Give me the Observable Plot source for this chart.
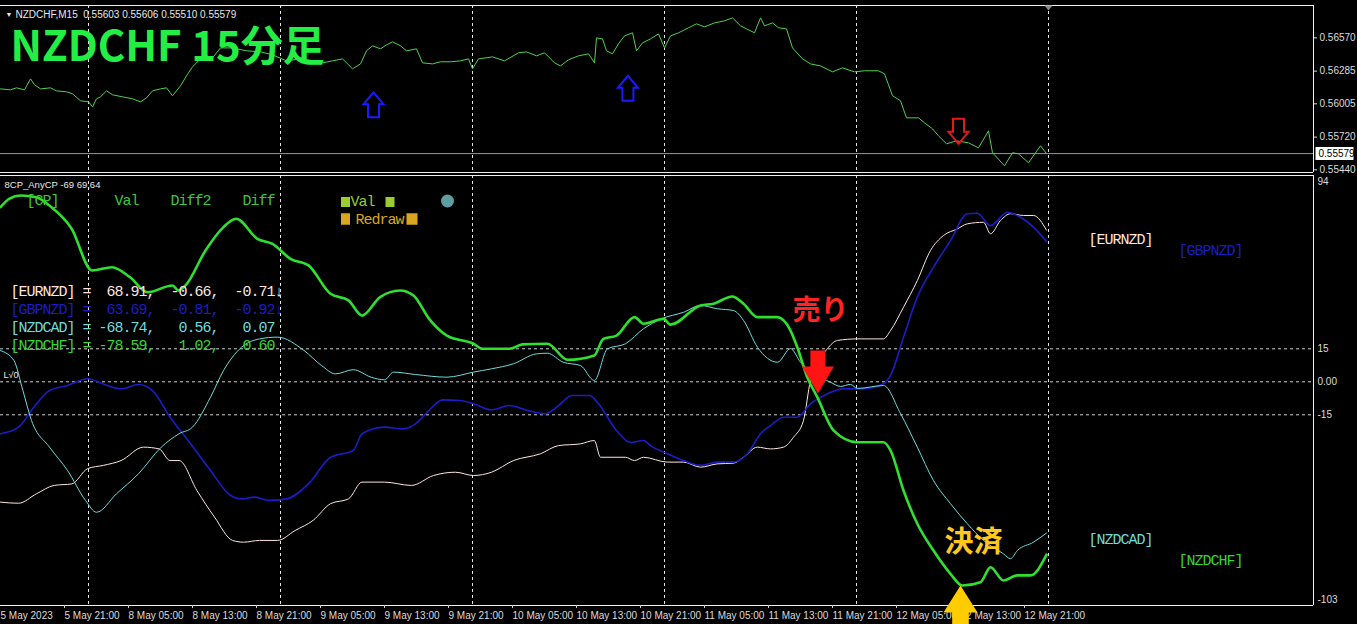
<!DOCTYPE html>
<html><head><meta charset="utf-8">
<script src="https://cdn.jsdelivr.net/npm/d3@7"></script>
<script src="https://cdn.jsdelivr.net/npm/@observablehq/plot@0.6"></script>
<style>
html,body{margin:0;padding:0;background:#000;overflow:hidden;width:1357px;height:624px;}
#chart svg{display:block;}
</style></head><body><div id="chart"></div>
<script>
// ---------- price pane data (NZDCHF M15, bar index from 5 May 13:00) ----------
const priceBars = [0,5,8,12,15,17,20,25,28,33,36,40,44,46,48,50,53,56,61,66,70,73,76,80,83,86,90,93,96,100,103,106,110,116,123,130,136,143,150,156,161,166,171,176,180,183,186,190,193,196,200,203,208,211,216,220,225,230,234,236,239,246,252,259,263,268,272,277,280,284,289,294,297,298,301,303,306,309,312,316,318,321,325,329,332,335,339,344,348,352,357,362,366,370,373,377,380,382,386,389,393,396,401,405,410,416,421,427,432,439,442,446,450,453,459,462,466,469,473,478,484,489,494,496,502,506,509,514,520,523];
const priceVals = [0.56133,0.56125,0.56142,0.56125,0.56219,0.56168,0.56133,0.56142,0.56116,0.56108,0.56091,0.56031,0.56022,0.55979,0.56048,0.56065,0.56116,0.56082,0.56065,0.56048,0.56022,0.56056,0.56116,0.56133,0.56142,0.56074,0.56159,0.56245,0.56322,0.56390,0.56416,0.56399,0.56484,0.56484,0.56459,0.56450,0.56425,0.56373,0.56390,0.56373,0.56356,0.56373,0.56390,0.56305,0.56347,0.56459,0.56502,0.56476,0.56510,0.56536,0.56502,0.56459,0.56476,0.56356,0.56347,0.56365,0.56365,0.56373,0.56390,0.56305,0.56390,0.56407,0.56373,0.56442,0.56450,0.56416,0.56442,0.56356,0.56330,0.56382,0.56416,0.56433,0.56356,0.56570,0.56561,0.56459,0.56433,0.56519,0.56587,0.56613,0.56459,0.56527,0.56561,0.56604,0.56484,0.56587,0.56613,0.56656,0.56690,0.56664,0.56698,0.56716,0.56741,0.56673,0.56647,0.56613,0.56741,0.56673,0.56698,0.56656,0.56647,0.56484,0.56390,0.56347,0.56330,0.56279,0.56313,0.56279,0.56288,0.56288,0.56262,0.56074,0.56031,0.55885,0.55885,0.55842,0.55791,0.55731,0.55663,0.55688,0.55671,0.55628,0.55774,0.55586,0.55474,0.55586,0.55577,0.55500,0.55646,0.55579];
const priceTicks = [0.56570, 0.56285, 0.56005, 0.55720, 0.55440];
const lastPrice = 0.55579;
const quoteSymbol = "NZDCHF,M15";
const quoteOHLC = [0.55603, 0.55606, 0.55510, 0.55579];
const chartTitle = "NZDCHF 15分足";
const buyArrowBars = [186.5, 313.7];
const buyArrowPrices = [0.55997, 0.56138];
const sellArrowBars = [479];
const sellArrowPrices = [0.55770];

// ---------- indicator pane data (8CP_AnyCP) ----------
const eurBars = [0,9,18,26.8,35.7,43.5,51.4,60.3,71.5,79.3,84.8,89.3,98.2,107,116,121.5,129.5,138.5,147.3,156.3,165,174,180.8,192,205.4,216.5,227.5,236.5,245.5,256.5,270,279,290,296.9,300,312.5,317,321.5,333.4,341.5,350,358.4,366.5,371.5,378.4,385,391.5,396.5,401.5,405,413.4,418.5,428.4,441.5,445,451.5,458.4,465,471.5,478.4,483.4,491.5,495,500,505,511.5,516.5,523];
const eurVals = [-54.7,-55.2,-50.9,-47.1,-46.4,-39.5,-38.0,-35.8,-29.7,-30.5,-35.8,-35.8,-49.4,-61.5,-72.1,-72.9,-72.1,-72.1,-67.6,-63.0,-55.4,-53.2,-45.6,-45.6,-47.1,-42.6,-41.1,-42.6,-41.1,-35.8,-32.7,-29.0,-28.2,-26.7,-34.3,-34.3,-35.8,-34.3,-36.5,-36.5,-38.8,-37.3,-37.0,-34.3,-29.7,-30.5,-29.7,-25.2,-17.6,0.6,15.0,18.8,19.5,19.5,23.3,33.9,46.0,59.7,66.5,69.5,71.8,72.5,67.3,73.3,76.4,75.6,75.6,68.91];
const gbpBars = [0,9,18,24.5,33.5,43.5,53.5,60.3,69,76,84.8,93.8,105,114,120.5,127.3,134,143,154,165,176.4,180.8,192,200.9,207.5,214.3,221,229.9,236.5,245.5,254.5,263.5,272.3,279,285.7,294.5,299,308,314.8,321.5,325,333.4,341.5,350,358.4,366.5,373.4,380,385,391.5,398.4,405,413.4,421.5,431.5,441.5,445,451.5,458.4,466.5,475,483.4,488.4,495,503.4,510,516.5,523];
const gbpVals = [-23.6,-20.6,-10.0,-4.0,-1.7,1.4,-1.7,-3.2,-1.2,-4.0,-16.1,-26.7,-40.3,-50.9,-53.2,-52.4,-53.9,-53.2,-46.4,-34.3,-31.2,-23.6,-20.6,-21.4,-19.1,-13.0,-8.2,-8.5,-10.0,-12.7,-10.8,-13.0,-14.5,-10.8,-6.2,-6.2,-10.0,-22.1,-27.5,-26.7,-29.0,-32.7,-35.8,-38.0,-36.5,-36.5,-32.7,-23.6,-19.9,-16.1,-16.1,-10.0,-5.5,-3.2,-3.2,-0.9,2.9,20.3,38.5,52.1,64.2,76.4,76.6,71.0,77.1,74.8,70.3,63.69];
const cadBars = [0,6.7,11.2,15.5,24.5,33.5,42.5,48,58,69,80.4,89.3,96,105,111.5,120.5,129.5,138.5,151.8,160.5,167.5,176.4,185.3,192,196.5,207.5,223.2,236.5,245.5,256.5,267.9,273.5,281.3,290,296.9,303.5,312.5,321.5,330.4,341.5,350,358.4,366.5,371.5,378.5,388.5,395,400,406.5,415,420,425,428.5,441.5,450,458.4,466.5,475,483.4,491.5,501.5,505,508.4,516.5,523];
const cadVals = [14.2,9.7,-4.0,-17.6,-29.7,-40.3,-53.9,-59.3,-50.9,-41.8,-29.7,-23.6,-20.6,-7.0,5.1,15.7,19.5,20.3,14.2,7.4,3.6,5.5,2.1,0.9,4.4,3.3,2.1,4.4,5.9,8.2,12.7,13.0,8.9,7.4,0.6,15.0,17.3,24.1,28.6,31.6,34.7,33.2,32.4,27.9,15.7,8.9,15.1,8.9,3.8,-0.2,-2.1,-1.2,-3.0,-1.7,-14.4,-29.7,-44.9,-55.4,-64.5,-72.1,-78.2,-80.4,-76.7,-72.9,-68.74];
const chfBars = [0,4.5,10,18,24.5,35.5,45.8,55.8,64.8,73.5,86,89,92.5,102.5,111.5,117.8,128.4,136,145,154,165,174,180.8,189.8,199.8,206.5,214.3,223.2,236.5,241,254.5,261,273.5,283.5,296.9,301.4,308,317,321.5,331.5,335,350,356.5,365.9,371.5,378.4,388.4,395,398.4,403.4,408.4,416.5,428.4,441.5,445,451.5,458.4,466.5,475,480.9,490,495,501.5,508.4,515,523];
const chfVals = [79.4,83.3,84.7,83.9,80.1,69.7,50.6,52.1,47.5,40.7,43.8,41.5,43.8,59.7,70.3,74.1,65.0,62.7,55.9,52.9,40.0,37.0,30.1,38.5,41.5,39.2,28.6,21.0,17.3,15.0,15.0,17.0,17.3,10.0,12.0,19.5,21.0,29.4,26.4,28.6,26.0,34.7,35.5,38.8,35.5,29.4,29.4,23.3,15.7,2.1,-7.0,-22.1,-27.5,-27.5,-31.2,-49.4,-64.5,-76.7,-87.3,-92.6,-91.1,-84.3,-90.3,-88.0,-88.0,-78.59];

const pairs = ["EURNZD", "GBPNZD", "NZDCAD", "NZDCHF"];
const pairVal = [68.91, 63.69, -68.74, -78.59];
const pairDiff2 = [-0.66, -0.81, 0.56, 1.02];
const pairDiff = [-0.71, -0.92, 0.07, 0.60];
const pairTrend = ["↓", "↓", "", ""];
const indicatorName = "8CP_AnyCP -69 69,64";
const levelLines = [15, 0, -15];
const indTicks = [94, 15, 0, -15, -103];
const xTickBars = [0,32,64,96,128,160,192,224,256,288,320,352,384,416,448,480,512];
const xTickLabels = ["5 May 2023","5 May 21:00","8 May 05:00","8 May 13:00","8 May 21:00","9 May 05:00","9 May 13:00","9 May 21:00","10 May 05:00","10 May 13:00","10 May 21:00","11 May 05:00","11 May 13:00","11 May 21:00","12 May 05:00","12 May 13:00","12 May 21:00"];
const daySepBars = [44, 140, 236, 332, 428, 524];
const sellSignal = {bar: 408.7, v: -5.3, label: "売り"};
const exitSignal = {bar: 480, v: -92.6, label: "決済"};

// ---------- styles ----------
const pairColor = {EURNZD: "#ffe4e1", GBPNZD: "#1c1cc8", NZDCAD: "#6fdcdc", NZDCHF: "#33d633"};
const W = 1357;
const xDomain = [0, 656.5];
const topDomain = [0.55417, 0.56847];
const indDomain = [-101.68, 93.77];
const mono = "Liberation Mono";
const baseStyle = {background: "transparent", color: "#dcdcdc", fontFamily: "'Liberation Sans', Arial, sans-serif", fontSize: "10px", overflow: "visible"};

const price = priceBars.map((b, i) => ({bar: b, price: priceVals[i]}));
const series = (bars, vals) => bars.map((b, i) => ({bar: b, v: vals[i]}));
const eur = series(eurBars, eurVals), gbp = series(gbpBars, gbpVals), cad = series(cadBars, cadVals), chf = series(chfBars, chfVals);
const buys = buyArrowBars.map((b, i) => ({bar: b, price: buyArrowPrices[i]}));
const sells = sellArrowBars.map((b, i) => ({bar: b, price: sellArrowPrices[i]}));
const nb = s => s.replace(/ /g, "\u00a0");

// ---------- custom symbols ----------
const hollowUp = {draw(c){c.moveTo(0,-12.5);c.lineTo(10,-0.5);c.lineTo(5.5,-0.5);c.lineTo(5.5,12.5);c.lineTo(-5.5,12.5);c.lineTo(-5.5,-0.5);c.lineTo(-10,-0.5);c.closePath();}};
const hollowDown = {draw(c){c.moveTo(0,12.5);c.lineTo(10,0.5);c.lineTo(5.5,0.5);c.lineTo(5.5,-12.5);c.lineTo(-5.5,-12.5);c.lineTo(-5.5,0.5);c.lineTo(-10,0.5);c.closePath();}};
const blockDown = {draw(c){c.moveTo(-7.5,-43);c.lineTo(7.5,-43);c.lineTo(7.5,-27);c.lineTo(16,-27);c.lineTo(0,0);c.lineTo(-16,-27);c.lineTo(-7.5,-27);c.closePath();}};
const blockUp = {draw(c){c.moveTo(0,0);c.lineTo(17,27);c.lineTo(8.3,27);c.lineTo(8.3,60);c.lineTo(-8.3,60);c.lineTo(-8.3,27);c.lineTo(-17,27);c.closePath();}};
const priceBox = {draw(c){c.moveTo(2,-6.5);c.lineTo(40,-6.5);c.lineTo(40,6.5);c.lineTo(2,6.5);c.closePath();}};
const shiftMark = {draw(c){c.moveTo(-4,0);c.lineTo(4,0);c.lineTo(0,5);c.closePath();}};
const box = (w, h) => ({draw(c){c.moveTo(-w/2,-h/2);c.lineTo(w/2,-h/2);c.lineTo(w/2,h/2);c.lineTo(-w/2,h/2);c.closePath();}});

// ---------- top price pane ----------
const topPlot = Plot.plot({
  width: W, height: 173,
  marginTop: 5, marginBottom: 1, marginLeft: 0, marginRight: 44,
  style: baseStyle,
  x: {domain: xDomain, axis: null},
  y: {domain: topDomain, axis: "right", ticks: priceTicks, tickFormat: d => d.toFixed(5), tickSize: 3, tickPadding: 3, label: null},
  marks: [
    Plot.ruleX(daySepBars, {stroke: "#e6e6e6", strokeDasharray: "3,3"}),
    Plot.ruleY([lastPrice], {stroke: "#8c95b4"}),
    Plot.line(price, {x: "bar", y: "price", stroke: "#4fd14f", strokeWidth: 1}),
    Plot.dot(buys, {x: "bar", y: "price", symbol: hollowUp, fill: "none", stroke: "#1a1aff", strokeWidth: 2}),
    Plot.dot(sells, {x: "bar", y: "price", symbol: hollowDown, fill: "none", stroke: "#e01b1b", strokeWidth: 2}),
    Plot.ruleY([topDomain[1]], {stroke: "#f0f0f0"}),
    Plot.ruleY([topDomain[0]], {stroke: "#f0f0f0"}),
    Plot.ruleX([xDomain[1]], {stroke: "#f0f0f0"}),
    Plot.dot([lastPrice], {frameAnchor: "right", y: d => d, symbol: priceBox, fill: "#ffffff", stroke: "none"}),
    Plot.text([lastPrice], {frameAnchor: "right", y: d => d, text: d => d.toFixed(5), dx: 5, textAnchor: "start", fill: "#000"}),
    Plot.text(["▼"], {frameAnchor: "top-left", lineAnchor: "middle", dx: 5, dy: 9, textAnchor: "start", fill: "#e8e8e8", fontSize: 7}),
    Plot.text([quoteSymbol + "  " + quoteOHLC.map(d => d.toFixed(5)).join(" ")], {frameAnchor: "top-left", lineAnchor: "middle", dx: 15, dy: 9, textAnchor: "start", fill: "#e8e8e8", text: d => nb(d)}),
    Plot.text([chartTitle], {frameAnchor: "top-left", lineAnchor: "middle", dx: 10, dy: 42, textAnchor: "start", fill: "#22ee44", fontSize: 42, fontWeight: "bold", fontFamily: "Noto Sans CJK JP"}),
    Plot.dot([daySepBars[daySepBars.length - 1]], {x: d => d, frameAnchor: "top", symbol: shiftMark, fill: "#8a8a8a", stroke: "none"})
  ]
});

// ---------- indicator pane ----------
const fmt = v => v.toFixed(2).padStart(7, " ");
const rowText = i => nb(`[${pairs[i]}] =${fmt(pairVal[i])},${fmt(pairDiff2[i])},${fmt(pairDiff[i])}${pairTrend[i]}`);
const headerText = nb("  [CP]       Val    Diff2    Diff");
const clampTick = d => Math.max(Math.min(d, indDomain[1] - 3), indDomain[0] + 2.5);
const xTicks = xTickBars.map((b, i) => ({bar: b, label: xTickLabels[i]}));
const tl = {frameAnchor: "top-left", lineAnchor: "middle", textAnchor: "start"};

const indPlot = Plot.plot({
  width: W, height: 451,
  marginTop: 2, marginBottom: 19, marginLeft: 0, marginRight: 44,
  style: baseStyle,
  x: {domain: xDomain, axis: null},
  y: {domain: indDomain, axis: null},
  marks: [
    Plot.ruleY(levelLines, {stroke: "#cfcfcf", strokeDasharray: "3,3"}),
    Plot.ruleX(daySepBars, {stroke: "#e6e6e6", strokeDasharray: "3,3"}),
    Plot.line(eur, {x: "bar", y: "v", stroke: pairColor.EURNZD, strokeWidth: 1, curve: "monotone-x"}),
    Plot.line(gbp, {x: "bar", y: "v", stroke: pairColor.GBPNZD, strokeWidth: 1.6, curve: "monotone-x"}),
    Plot.line(cad, {x: "bar", y: "v", stroke: pairColor.NZDCAD, strokeWidth: 1, curve: "monotone-x"}),
    Plot.line(chf, {x: "bar", y: "v", stroke: "#2fe02f", strokeWidth: 2.6, curve: "monotone-x"}),
    Plot.ruleY([indDomain[1]], {stroke: "#f0f0f0"}),
    Plot.ruleY([indDomain[0]], {stroke: "#f0f0f0"}),
    Plot.ruleX([xDomain[1]], {stroke: "#f0f0f0"}),
    // right axis
    Plot.text(indTicks, {frameAnchor: "right", y: clampTick, text: d => d === 0 ? "0.00" : String(d), dx: 4, textAnchor: "start"}),
    // bottom time axis
    Plot.ruleX(xTickBars.slice(1), {y1: indDomain[0], y2: indDomain[0] - 1.4, stroke: "#d0d0d0"}),
    Plot.text(xTicks, {x: "bar", frameAnchor: "bottom", lineAnchor: "middle", text: "label", textAnchor: "start", dy: 10, dx: 0}),
    // indicator labels
    Plot.text([indicatorName], {...tl, dx: 4, dy: 9, fill: "#e8e8e8", fontSize: 9.5}),
    Plot.text(["L√0"], {...tl, dx: 3, dy: 200, fill: "#e8e8e8", fontSize: 9}),
    Plot.text([headerText], {...tl, dx: 10, dy: 25, fill: "#3cc83c", fontFamily: mono, fontSize: 15}),
    Plot.dot([0, 1], {frameAnchor: "top-left", dx: 345, dy: 26.5, symbol: box(9, 10), fill: "#9acd32", stroke: "none"}),
    Plot.dot([0], {frameAnchor: "top-left", dx: 389.5, dy: 26.5, symbol: box(9, 10), fill: "#9acd32", stroke: "none"}),
    Plot.text(["Val"], {...tl, dx: 350, dy: 26, fill: "#9acd32", fontFamily: mono, fontSize: 15}),
    Plot.dot([0], {frameAnchor: "top-left", dx: 345, dy: 43.5, symbol: box(9, 11.5), fill: "#daa520", stroke: "none"}),
    Plot.dot([0], {frameAnchor: "top-left", dx: 411.5, dy: 43.5, symbol: box(11, 11.5), fill: "#daa520", stroke: "none"}),
    Plot.text(["Redraw"], {...tl, dx: 355, dy: 44, fill: "#daa520", fontFamily: mono, fontSize: 15}),
    Plot.dot([0], {frameAnchor: "top-left", dx: 447, dy: 25.5, r: 6.5, fill: "#5f9ea0", stroke: "none"}),
    ...pairs.map((p, i) => Plot.text([rowText(i)], {...tl, dx: 10, dy: 115.5 + i * 18.2, fill: pairColor[p], fontFamily: mono, fontSize: 15})),
    Plot.text([`[${pairs[0]}]`], {x: 544, y: 64.7, textAnchor: "start", fill: pairColor.EURNZD, fontFamily: mono, fontSize: 15}),
    Plot.text([`[${pairs[1]}]`], {x: 589, y: 59.7, textAnchor: "start", fill: pairColor.GBPNZD, fontFamily: mono, fontSize: 15}),
    Plot.text([`[${pairs[2]}]`], {x: 544, y: -71.7, textAnchor: "start", fill: pairColor.NZDCAD, fontFamily: mono, fontSize: 15}),
    Plot.text([`[${pairs[3]}]`], {x: 589, y: -81.2, textAnchor: "start", fill: pairColor.NZDCHF, fontFamily: mono, fontSize: 15}),
    // trade annotations
    Plot.dot([sellSignal], {x: "bar", y: "v", symbol: blockDown, fill: "#ff1414", stroke: "none"}),
    Plot.text([sellSignal], {x: d => d.bar + 1.3, y: 32.0, text: "label", fill: "#ff2424", fontSize: 28, fontWeight: "bold", fontFamily: "Noto Sans CJK JP"}),
    Plot.dot([exitSignal], {x: "bar", y: "v", symbol: blockUp, fill: "#ffcc00", stroke: "none"}),
    Plot.text([exitSignal], {x: d => d.bar + 6.5, y: -73.0, text: "label", fill: "#ffc81e", fontSize: 29, fontWeight: "bold", fontFamily: "Noto Sans CJK JP"})
  ]
});

for (const svg of [topPlot, indPlot]) {
  for (const g of svg.querySelectorAll('[font-family="' + mono + '"]')) g.setAttribute("letter-spacing", "-1");
}
topPlot.style.position = "relative";
topPlot.style.zIndex = "2";
const root = document.getElementById("chart");
root.append(topPlot, indPlot);
</script></body></html>
